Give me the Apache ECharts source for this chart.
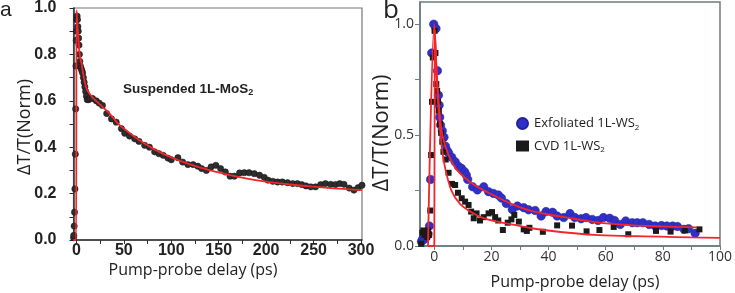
<!DOCTYPE html>
<html><head><meta charset="utf-8">
<script src="https://cdn.jsdelivr.net/npm/echarts@6/dist/echarts.min.js"></script>
<style>html,body{margin:0;padding:0;background:#fff}#c{width:735px;height:293px}</style>
</head><body><div id="c"></div>
<script>
// ---------- Panel a : Suspended 1L-MoS2 ----------
const aDelay = [-3.2,-2.9,-2.7,-2.3,-1.9,-1.5,-1.1,-0.7,-0.4,-0.1,0.2,0.5,0.8,1.2,1.6,2.0,2.4,2.8,3.2,3.6,4.2,5,5.8,6.6,7.4,8.2,9,9.8,10.6,11.5,13,14.5,17,21,24,27.5,32,37,42,47.5,51,56,61.5,66,72,77,82.5,87,91.5,96.5,100,107,112,117.5,123,128,132,137,142,147,152,157,162,166.5,172,177,182,187.5,193,198,202,207,212,217,222.5,228,233,237.5,242,247,252,257.5,262.5,268,273,277.5,282,287.5,292.5,297,301];
const aSignal = [0.005,0.01,0.02,0.06,0.12,0.22,0.37,0.565,0.75,0.86,0.9,0.95,0.965,0.95,0.92,0.9,0.87,0.84,0.8,0.77,0.75,0.74,0.73,0.72,0.7,0.68,0.66,0.64,0.62,0.605,0.605,0.61,0.61,0.6,0.59,0.58,0.545,0.522,0.508,0.48,0.46,0.448,0.436,0.425,0.408,0.4,0.38,0.372,0.365,0.353,0.346,0.355,0.336,0.325,0.325,0.318,0.308,0.3,0.315,0.322,0.308,0.293,0.275,0.275,0.289,0.29,0.29,0.286,0.279,0.27,0.258,0.253,0.25,0.25,0.247,0.243,0.243,0.239,0.233,0.229,0.229,0.239,0.243,0.24,0.239,0.243,0.24,0.224,0.215,0.226,0.236];
const aFitDelay = [-3,-0.3,0.2,1,2,3.5,5.5,7,9,11,14,18,22,28,35,45,55,65,80,95,110,128,145,163,180,198,215,233,250,268,285,301];
const aFitSignal = [0,0,0.99,0.93,0.88,0.8,0.76,0.72,0.68,0.65,0.63,0.61,0.595,0.572,0.545,0.497,0.465,0.434,0.396,0.365,0.34,0.315,0.296,0.279,0.265,0.253,0.244,0.236,0.23,0.224,0.219,0.215];
const aXLabels = [0,50,100,150,200,250,300];
const aXTicks = [0,25,50,75,100,125,150,175,200,225,250,275,300];
const aYLabels = [0,0.2,0.4,0.6,0.8,1.0];
const aYTicks = [0,0.1,0.2,0.3,0.4,0.5,0.6,0.7,0.8,0.9,1.0];

// ---------- Panel b : 1L-WS2 ----------
const exfDelay = [-4.5,-4.1,-3.5,-2.8,-2.2,-1.7,-1.3,-0.9,-0.2,0.6,1.1,1.45,1.7,1.9,2.2,2.8,3.4,3.9,4.5,5.0,6.1,7.3,8.4,9.5,10.6,11.2,11.7,13.4,15.1,17.3,19,20.7,22.4,23.5,25.2,27.3,29.1,31.3,33,35.3,37.4,39.1,41.4,43,45.3,47.5,49.2,51.4,53.1,55.3,57.3,59.2,61.4,63.1,65.1,67,69.3,71,73,75.2,77.3,79.5,81.4,83.4,85.1,87.4,89,91.3];
const exfSignal = [0.02,0.03,0.03,0.04,0.055,0.09,0.3,0.87,1.0,0.98,0.79,0.68,0.635,0.58,0.545,0.52,0.49,0.45,0.43,0.42,0.4,0.38,0.36,0.35,0.335,0.32,0.3,0.267,0.253,0.267,0.245,0.237,0.23,0.216,0.192,0.165,0.18,0.173,0.163,0.16,0.135,0.155,0.152,0.135,0.128,0.146,0.128,0.123,0.128,0.12,0.115,0.128,0.125,0.115,0.097,0.113,0.105,0.105,0.105,0.097,0.09,0.092,0.09,0.09,0.088,0.075,0.078,0.057];
const cvdDelay = [-4.6,-4.2,-3.8,-3.4,-3.0,-2.6,-2.2,-1.8,-1.4,-1.1,-0.8,-0.5,0.1,0.4,0.7,1.0,1.3,1.6,2.0,2.4,2.8,3.2,4.0,5.0,6.2,7.3,8.3,9.6,10.8,12,12.9,13.8,14.8,16,17.3,19,20.2,21.3,22.4,24,25.7,27,28,29.6,31.3,32.4,33.3,38,43,48.2,53.3,57.8,62.8,67.9,77.6,82.7,87.7,92.8];
const cvdSignal = [0.01,0.06,0.07,0.05,0.06,0.04,0.07,0.05,0.16,0.41,0.65,0.85,0.97,0.87,0.73,0.7,0.65,0.61,0.55,0.51,0.47,0.425,0.39,0.33,0.28,0.275,0.24,0.215,0.2,0.185,0.155,0.125,0.147,0.115,0.13,0.147,0.153,0.13,0.115,0.072,0.105,0.12,0.14,0.11,0.075,0.068,0.082,0.064,0.093,0.092,0.066,0.072,0.086,0.053,0.068,0.065,0.07,0.075];
const exfFitDelay = [-2.2,0,1,2,3,5,7.5,10.5,14,17.5,22,27,33,40,47,55,62,70,78,85,92];
const exfFitSignal = [0,1.0,0.75,0.58,0.49,0.41,0.35,0.31,0.275,0.25,0.22,0.19,0.162,0.142,0.127,0.11,0.1,0.093,0.089,0.086,0.084];
const cvdFitDelay = [-2.2,0,0.2,1,2,2.8,4,6,9,13,17,22,27,34,45,56,68,79,90,100];
const cvdFitSignal = [0,0,0.97,0.72,0.53,0.43,0.34,0.25,0.19,0.152,0.127,0.11,0.098,0.08,0.062,0.05,0.045,0.042,0.039,0.037];
const bXLabels = [0,20,40,60,80,100];
const bXTicks = [0,10,20,30,40,50,60,70,80,90,100];
const bYLabels = [0,0.5,1.0];
const bYTicks = [0,0.25,0.5,0.75,1.0];

const zip = (xs, ys) => xs.map((x, i) => [x, ys[i]]);
const RED = '#f2262b';

const chart = echarts.init(document.getElementById('c'), null, {renderer: 'canvas'});
const axA = '#2b2b2b', axB = '#6b7b80';
const aLabel = {fontFamily: 'Liberation Sans', fontWeight: 'bold', fontSize: 16, color: '#222'};
const bLabel = {fontFamily: 'Open Sans', fontSize: 14, color: '#333'};

chart.setOption({
  animation: false,
  backgroundColor: '#fff',
  grid: [
    {left: 73.5, top: 7, width: 288.5, height: 233, show: true, borderColor: '#777', borderWidth: 1.2},
    {left: 420, top: 2, width: 312.5, height: 244, show: true, borderColor: axB, borderWidth: 1.5}
  ],
  xAxis: [
    {gridIndex: 0, type: 'value', min: -3, max: 301,
     axisLine: {onZero: false, lineStyle: {color: axA, width: 1.5}},
     axisTick: {customValues: aXTicks, length: 4, lineStyle: {color: axA}},
     axisLabel: Object.assign({customValues: aXLabels, margin: 3}, aLabel),
     splitLine: {show: false}},
    {gridIndex: 1, type: 'value', min: -5, max: 100,
     axisLine: {onZero: false, lineStyle: {color: axB, width: 1.5}},
     axisTick: {customValues: bXTicks, length: 4, lineStyle: {color: axB}},
     axisLabel: Object.assign({customValues: bXLabels, margin: 4}, bLabel),
     splitLine: {show: false}}
  ],
  yAxis: [
    {gridIndex: 0, type: 'value', min: 0, max: 1.0,
     axisLine: {onZero: false, lineStyle: {color: axA, width: 1.5}},
     axisTick: {customValues: aYTicks, length: 4, lineStyle: {color: axA}},
     axisLabel: Object.assign({customValues: aYLabels, margin: 17, formatter: v => v.toFixed(1)}, aLabel),
     splitLine: {show: false}},
    {gridIndex: 1, type: 'value', min: 0, max: 1.1,
     axisLine: {onZero: false, lineStyle: {color: axB, width: 1.5}},
     axisTick: {customValues: bYTicks, length: 5, lineStyle: {color: axB}},
     axisLabel: Object.assign({customValues: bYLabels, margin: 6, formatter: v => v.toFixed(1)}, bLabel),
     splitLine: {show: false}}
  ],
  legend: {
    orient: 'vertical', left: 511, top: 112, itemGap: 8, itemWidth: 13, itemHeight: 11,
    data: [{name: 'Exfoliated 1L-WS2', icon: 'circle'}, {name: 'CVD 1L-WS2', icon: 'rect'}],
    formatter: n => '{t|' + n.slice(0, -1) + '}{s|2}',
    textStyle: {rich: {
      t: {fontFamily: 'Open Sans', fontSize: 13, color: '#222'},
      s: {fontFamily: 'Open Sans', fontSize: 8, color: '#222', verticalAlign: 'bottom', padding: [8, 0, 0, 0]}
    }}
  },
  series: [
    {type: 'scatter', xAxisIndex: 0, yAxisIndex: 0, data: zip(aDelay, aSignal), symbol: 'circle', symbolSize: 6.3,
     itemStyle: {color: '#2e2e2e', borderColor: '#111', borderWidth: 0.5, opacity: 1}, z: 2},
    {type: 'line', xAxisIndex: 0, yAxisIndex: 0, data: zip(aFitDelay, aFitSignal), showSymbol: false, smooth: 0.3,
     lineStyle: {color: RED, width: 1.8}, z: 3},
    {name: 'Exfoliated 1L-WS2', type: 'scatter', xAxisIndex: 1, yAxisIndex: 1, data: zip(exfDelay, exfSignal), symbol: 'circle', symbolSize: 8.5,
     itemStyle: {color: '#3030c8', borderColor: '#22229a', borderWidth: 0.5, opacity: 1}, z: 2},
    {name: 'CVD 1L-WS2', type: 'scatter', xAxisIndex: 1, yAxisIndex: 1, data: zip(cvdDelay, cvdSignal), symbol: 'rect', symbolSize: 6,
     itemStyle: {color: '#1a1a1a', opacity: 1}, z: 2},
    {type: 'line', xAxisIndex: 1, yAxisIndex: 1, data: zip(exfFitDelay, exfFitSignal), showSymbol: false, smooth: 0.3,
     lineStyle: {color: RED, width: 1.8}, z: 3},
    {type: 'line', xAxisIndex: 1, yAxisIndex: 1, data: zip(cvdFitDelay, cvdFitSignal), showSymbol: false, smooth: 0.3,
     lineStyle: {color: RED, width: 1.8}, z: 3}
  ],
  graphic: [
    {type: 'text', x: 0, y: 0, style: {text: 'a', font: '21px "Liberation Sans"', fill: '#222'}},
    {type: 'text', x: 383, y: -2, style: {text: 'b', font: '26px "Open Sans"', fill: '#222'}},
    {type: 'text', x: 25, y: 127, rotation: Math.PI / 2,
     style: {text: 'ΔT/T(Norm)', font: '18px "Open Sans"', fill: '#222', align: 'center', verticalAlign: 'middle'}},
    {type: 'text', x: 382, y: 133, rotation: Math.PI / 2,
     style: {text: 'ΔT/T(Norm)', font: '22px "Open Sans"', fill: '#222', align: 'center', verticalAlign: 'middle'}},
    {type: 'text', x: 193, y: 270,
     style: {text: 'Pump-probe delay (ps)', font: '16px "Open Sans"', fill: '#222', align: 'center', verticalAlign: 'middle'}},
    {type: 'text', x: 575, y: 282,
     style: {text: 'Pump-probe delay (ps)', font: '16px "Open Sans"', fill: '#222', align: 'center', verticalAlign: 'middle'}},
    {type: 'text', x: 123, y: 89,
     style: {text: '{t|Suspended 1L-MoS}{s|2}', verticalAlign: 'middle',
       rich: {t: {fontFamily: 'Liberation Sans', fontWeight: 'bold', fontSize: 13.5, fill: '#222'},
              s: {fontFamily: 'Liberation Sans', fontWeight: 'bold', fontSize: 9, fill: '#222', padding: [7, 0, 0, 0]}}}}
  ]
});
</script></body></html>
